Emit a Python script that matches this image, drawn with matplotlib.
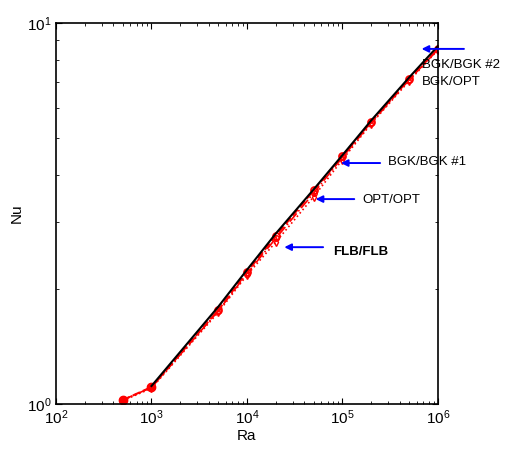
import numpy as np
import matplotlib
matplotlib.use('Agg')
import matplotlib.pyplot as plt
from matplotlib.ticker import NullFormatter

plt.rcParams['font.family'] = ['Liberation Sans', 'DejaVu Sans']

# Rayleigh numbers and Nusselt numbers
ra = [500, 1e3, 5e3, 1e4, 2e4, 5e4, 1e5, 2e5, 5e5, 1e6]
nu_circ = [1.024, 1.108, 1.765, 2.22, 2.76, 3.64, 4.48, 5.50, 7.13, 8.55]
nu_dot = [1.02, 1.10, 1.74, 2.18, 2.66, 3.50, 4.38, 5.44, 7.05, 8.50]
nu_dashdot = [1.025, 1.105, 1.755, 2.20, 2.72, 3.58, 4.44, 5.47, 7.10, 8.52]

ra_ref = [1e3, 5e3, 1e4, 2e4, 5e4, 1e5, 2e5, 5e5, 1e6]
nu_ref = [1.115, 1.80, 2.25, 2.80, 3.66, 4.50, 5.55, 7.20, 8.70]

# arrow labels: text, arrow tip (Ra, Nu), arrow tail Ra, text position (Ra, Nu), bold
labels = ['BGK/BGK #2', 'BGK/BGK #1', 'OPT/OPT', 'FLB/FLB']
tips = [(6.3e5, 8.55), (9.0e4, 4.29), (4.9e4, 3.45), (2.3e4, 2.58)]
tails = [2.0e6, 2.65e5, 1.42e5, 6.7e4]
text_pos = [(6.8e5, 7.76), (3.0e5, 4.31), (1.6e5, 3.44), (7.9e4, 2.50)]
bold = [False, False, False, True]

fig = plt.figure(figsize=(5.11, 4.49), dpi=100)
ax = fig.add_axes([0.1096, 0.1002, 0.7475, 0.8486])

ax.plot(ra, nu_dot, ':', color='red', lw=1.2, marker='d', ms=4, mfc='none')
ax.plot(ra, nu_dashdot, '-.', color='red', lw=1.2, marker='o', ms=4, mfc='none')
ax.plot(ra, nu_circ, '--', color='red', lw=1.5, marker='o', ms=5, mfc='none', mew=1.3)
ax.plot(ra[:2], nu_circ[:2], 'o', color='red', ms=6)
ax.plot(ra_ref, nu_ref, '-', color='black', lw=1.5)

ax.set_xscale('log')
ax.set_yscale('log')
ax.set_xlim(1e2, 1e6)
ax.set_ylim(1, 10)
ax.set_xticks([1e2, 1e3, 1e4, 1e5, 1e6])
ax.set_yticks([1, 10])
ax.yaxis.set_minor_formatter(NullFormatter())
ax.xaxis.set_minor_formatter(NullFormatter())
ax.tick_params(which='both', direction='in', top=True, right=True, labelsize=11)
ax.tick_params(which='major', length=4)
ax.tick_params(which='minor', length=2)
for s in ax.spines.values():
    s.set_linewidth(1.2)
ax.set_xlabel('Ra', fontsize=11, labelpad=1)
ax.set_ylabel('Nu', fontsize=11, labelpad=2)

for lab, tip, tail, tp, b in zip(labels, tips, tails, text_pos, bold):
    ax.annotate('', xy=tip, xytext=(tail, tip[1]),
                arrowprops=dict(arrowstyle='-|>', color='blue', lw=1.4, mutation_scale=10))
    ax.text(tp[0], tp[1], lab, fontsize=9.5, va='center', ha='left',
            fontweight='bold' if b else 'normal', clip_on=False)
ax.text(6.8e5, 7.0, 'BGK/OPT', fontsize=9.5, va='center', ha='left', clip_on=False)

fig.savefig('out.png', dpi=100)
